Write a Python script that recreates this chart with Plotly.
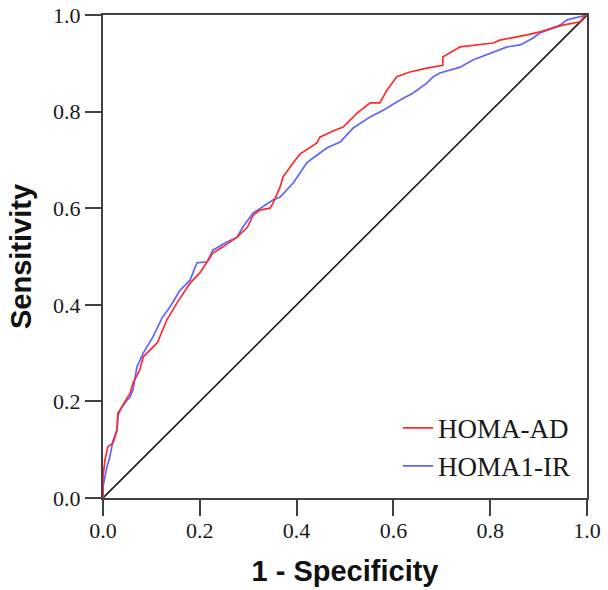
import plotly.graph_objects as go

# HOMA-AD (red)
ad_fpr = [0.0, 0.0, 0.004, 0.010, 0.021, 0.029, 0.031, 0.041, 0.056, 0.062, 0.076, 0.083, 0.112, 0.132,
          0.153, 0.180, 0.200, 0.227, 0.248, 0.277, 0.298, 0.310, 0.324, 0.345, 0.351, 0.366, 0.372,
          0.393, 0.407, 0.442, 0.448, 0.475, 0.496, 0.525, 0.552, 0.572, 0.587, 0.607, 0.634, 0.669,
          0.702, 0.702, 0.738, 0.806, 0.820, 0.876, 0.903, 0.950, 0.986, 0.996, 1.0]
ad_tpr = [0.0, 0.043, 0.079, 0.106, 0.114, 0.141, 0.176, 0.193, 0.217, 0.238, 0.265, 0.292, 0.321, 0.369,
          0.404, 0.445, 0.466, 0.507, 0.520, 0.540, 0.560, 0.585, 0.596, 0.600, 0.610, 0.644, 0.665,
          0.694, 0.712, 0.735, 0.747, 0.760, 0.768, 0.797, 0.818, 0.818, 0.845, 0.872, 0.882, 0.890,
          0.896, 0.913, 0.934, 0.942, 0.948, 0.959, 0.965, 0.979, 0.986, 1.0, 1.0]

# HOMA1-IR (blue)
ir_fpr = [0.0, 0.0, 0.008, 0.014, 0.021, 0.029, 0.031, 0.039, 0.050, 0.056, 0.062, 0.070, 0.083, 0.103,
          0.122, 0.138, 0.159, 0.180, 0.194, 0.215, 0.227, 0.256, 0.277, 0.289, 0.310, 0.331, 0.351,
          0.366, 0.393, 0.407, 0.421, 0.434, 0.463, 0.490, 0.517, 0.552, 0.579, 0.614, 0.640, 0.669,
          0.682, 0.696, 0.738, 0.764, 0.806, 0.835, 0.862, 0.888, 0.903, 0.944, 0.959, 0.996, 1.0]
ir_tpr = [0.0, 0.023, 0.064, 0.085, 0.120, 0.141, 0.172, 0.188, 0.203, 0.209, 0.224, 0.271, 0.300, 0.333,
          0.373, 0.395, 0.430, 0.451, 0.487, 0.489, 0.513, 0.530, 0.540, 0.561, 0.590, 0.603, 0.617,
          0.623, 0.652, 0.673, 0.694, 0.704, 0.725, 0.737, 0.766, 0.789, 0.803, 0.824, 0.838, 0.859,
          0.872, 0.880, 0.892, 0.907, 0.923, 0.934, 0.938, 0.952, 0.963, 0.979, 0.990, 1.0, 1.0]

ref_x = [0.0, 1.0]
ref_y = [0.0, 1.0]

tick_vals = [0.0, 0.2, 0.4, 0.6, 0.8, 1.0]
tick_text = ["0.0", "0.2", "0.4", "0.6", "0.8", "1.0"]

fig = go.Figure()
fig.add_trace(go.Scatter(x=ref_x, y=ref_y, mode="lines", line=dict(color="#1a1a1a", width=1.6),
                         showlegend=False, hoverinfo="skip"))
fig.add_trace(go.Scatter(x=ir_fpr, y=ir_tpr, mode="lines", name="HOMA1-IR",
                         line=dict(color="#6262ff", width=1.7)))
fig.add_trace(go.Scatter(x=ad_fpr, y=ad_tpr, mode="lines", name="HOMA-AD",
                         line=dict(color="#ff2a2a", width=1.7)))

axis_common = dict(
    range=[0, 1], tickvals=tick_vals, ticktext=tick_text,
    showline=True, linecolor="#404040", linewidth=2, mirror=True,
    ticks="outside", ticklen=16, tickwidth=2, tickcolor="#404040",
    showgrid=False, zeroline=False,
    tickfont=dict(family="Liberation Serif", size=22, color="#1a1a1a"),
    ticklabeloverflow="allow",
    automargin=False,
)

fig.update_layout(
    width=608, height=590,
    margin=dict(l=103, r=21, t=15, b=92),
    paper_bgcolor="white", plot_bgcolor="white",
    xaxis=dict(**axis_common, ticklabelstandoff=-4,
               title=dict(text="<b>1 - Specificity</b>", standoff=18,
                          font=dict(family="Liberation Sans", size=29, color="#111111"))),
    yaxis=dict(**axis_common,
               title=dict(text="<b>Sensitivity</b>", standoff=13,
                          font=dict(family="Liberation Sans", size=29, color="#111111"))),
    legend=dict(x=0.6095, y=0.195, xanchor="left", yanchor="top",
                traceorder="reversed", bgcolor="rgba(0,0,0,0)",
                font=dict(family="Liberation Serif", size=27, color="#1a1a1a"),
                itemwidth=30, tracegroupgap=0),
)

fig.write_html(
    "out.html",
    config={"displayModeBar": False},
    post_script="document.body.style.margin='0';document.body.style.overflow='hidden';",
)
